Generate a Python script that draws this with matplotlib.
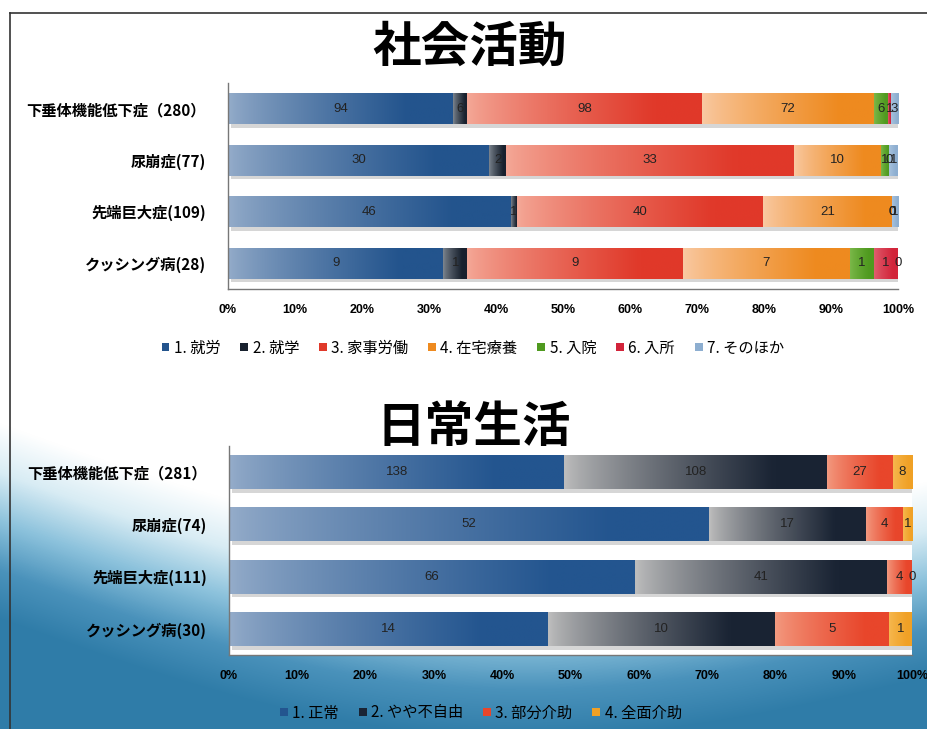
import numpy as np
import matplotlib.pyplot as plt
from matplotlib.colors import to_rgb, LinearSegmentedColormap
from matplotlib.patches import Patch
from matplotlib.lines import Line2D

plt.rcParams['font.family'] = ['Noto Sans CJK JP', 'DejaVu Sans']
num_font = ['Liberation Sans Narrow', 'Liberation Sans', 'DejaVu Sans']

# ---- 社会活動 data ----
social_groups = ['下垂体機能低下症（280）', '尿崩症(77)', '先端巨大症(109)', 'クッシング病(28)']
social_cats = ['1. 就労', '2. 就学', '3. 家事労働', '4. 在宅療養', '5. 入院', '6. 入所', '7. そのほか']
social_counts = [
    [94, 30, 46, 9],    # 就労
    [6, 2, 1, 1],       # 就学
    [98, 33, 40, 9],    # 家事労働
    [72, 10, 21, 7],    # 在宅療養
    [6, 1, 0, 1],       # 入院
    [1, 0, 0, 1],       # 入所
    [3, 1, 1, 0],       # そのほか
]

# ---- 日常生活 data ----
daily_groups = ['下垂体機能低下症（281）', '尿崩症(74)', '先端巨大症(111)', 'クッシング病(30)']
daily_cats = ['1. 正常', '2. やや不自由', '3. 部分介助', '4. 全面介助']
daily_counts = [
    [138, 52, 66, 14],  # 正常
    [108, 17, 41, 10],  # やや不自由
    [27, 4, 4, 5],      # 部分介助
    [8, 1, 0, 1],       # 全面介助
]

# (light, dark) gradient pairs per category
social_colors = [('#93abc9', '#23548d'), ('#7d8690', '#18212e'), ('#f4a796', '#e0392a'),
                 ('#f9c9a2', '#ee8a1f'), ('#7cb84a', '#4f9a1f'), ('#e06070', '#d2243a'),
                 ('#a9c3de', '#8daed0')]
daily_colors = [('#93abc9', '#23558f'), ('#bcbcbc', '#1a2434'), ('#f39a80', '#e8462b'),
                ('#f6b850', '#f0a126')]

W, H = 927, 729
fig = plt.figure(figsize=(W / 100, H / 100), dpi=100)

# background: white top fading into a blue wave at the bottom
yy, xx = np.mgrid[0:H, 0:W]
u = xx / W
v = yy / H
edge = 0.58 + 0.08 * u + 0.12 * np.sin(np.pi * u)
t = np.clip((v - edge) / 0.27, 0, 1)
bg_cmap = LinearSegmentedColormap.from_list(
    'bg', ['#ffffff', '#d8ecf4', '#8cc2dc', '#4a92bb', '#2f7ca8'])
bg_img = bg_cmap(t)[..., :3]
bg = fig.add_axes([0, 0, 1, 1], zorder=-10)
bg.imshow(bg_img, aspect='auto', extent=[0, 1, 0, 1], interpolation='bilinear')
bg.axis('off')

# frame lines
fig.add_artist(Line2D([10 / W, 10 / W], [0, 1 - 13 / H], color='#333333', lw=1.2))
fig.add_artist(Line2D([10 / W, 1], [1 - 13 / H, 1 - 13 / H], color='#333333', lw=1.2))


def shade(ax, patch, light, dark):
    x0, y0 = patch.get_x(), patch.get_y()
    w, h = patch.get_width(), patch.get_height()
    if w <= 0:
        return
    ramp = np.clip(np.linspace(0, 1, 64) / 0.8, 0, 1) ** 0.8
    a, b = np.array(to_rgb(light)), np.array(to_rgb(dark))
    img = (a + (b - a) * ramp[:, None])[None, :, :]
    im = ax.imshow(img, extent=(x0, x0 + w, y0 + h, y0), aspect='auto',
                   interpolation='bilinear', zorder=2)
    im.set_clip_path(patch)


def draw_panel(ax, groups, cats, counts, colors, bar_h):
    counts = np.array(counts, dtype=float)
    shares = counts / counts.sum(axis=0)
    y = np.arange(len(groups))
    # soft drop shadow under each bar
    ax.barh(y + 0.07, np.ones(len(groups)), left=0.004, height=bar_h,
            color='#7a7a7a', alpha=0.3, lw=0, zorder=1)
    left = np.zeros(len(groups))
    for i, cat in enumerate(cats):
        light, dark = colors[i]
        bars = ax.barh(y, shares[i], left=left, height=bar_h, color=dark,
                       lw=0, zorder=2, label=cat)
        for p in bars:
            shade(ax, p, light, dark)
        ax.bar_label(bars, labels=[f'{int(c)}' for c in counts[i]], label_type='center',
                     fontsize=9.5, color='#222222', family=num_font)
        left += shares[i]
    ax.set_xlim(0, 1)
    ax.set_ylim(len(groups) - 0.5, -0.5)
    ax.set_yticks(y)
    ax.set_yticklabels(groups, fontsize=11, fontweight='bold')
    ax.set_xticks(np.linspace(0, 1, 11))
    ax.set_xticklabels([f'{p}%' for p in range(0, 101, 10)],
                       fontsize=9, fontweight='bold', family=num_font)
    ax.tick_params(length=0)
    ax.tick_params(axis='y', pad=16)
    ax.tick_params(axis='x', pad=11)
    for s in ['top', 'right']:
        ax.spines[s].set_visible(False)
    for s in ['left', 'bottom']:
        ax.spines[s].set_color('#777777')
        ax.spines[s].set_linewidth(1.0)
    ax.set_facecolor('white')
    handles = [Patch(facecolor=colors[i][1]) for i in range(len(cats))]
    return handles


# ---- 社会活動 ----
ax1 = fig.add_axes([228 / W, 1 - 289 / H, 670 / W, 206 / H])
h1 = draw_panel(ax1, social_groups, social_cats, social_counts, social_colors, 0.60)
fig.text(470 / W, 1 - 47 / H, '社会活動', ha='center', va='center',
         fontsize=35, fontweight='bold')
fig.legend(h1, social_cats, loc='center', bbox_to_anchor=(473 / W, 1 - 348 / H),
           ncol=7, frameon=False, handlelength=0.5, handleheight=0.5,
           handletextpad=0.3, columnspacing=1.3, fontsize=11)

# ---- 日常生活 ----
ax2 = fig.add_axes([229 / W, 1 - 655 / H, 683 / W, 209 / H])
h2 = draw_panel(ax2, daily_groups, daily_cats, daily_counts, daily_colors, 0.65)
fig.text(474 / W, 1 - 427 / H, '日常生活', ha='center', va='center',
         fontsize=35, fontweight='bold')
fig.legend(h2, daily_cats, loc='center', bbox_to_anchor=(481 / W, 1 - 713 / H),
           ncol=4, frameon=False, handlelength=0.5, handleheight=0.5,
           handletextpad=0.3, columnspacing=1.3, fontsize=11)

fig.savefig('out.png', dpi=100)
